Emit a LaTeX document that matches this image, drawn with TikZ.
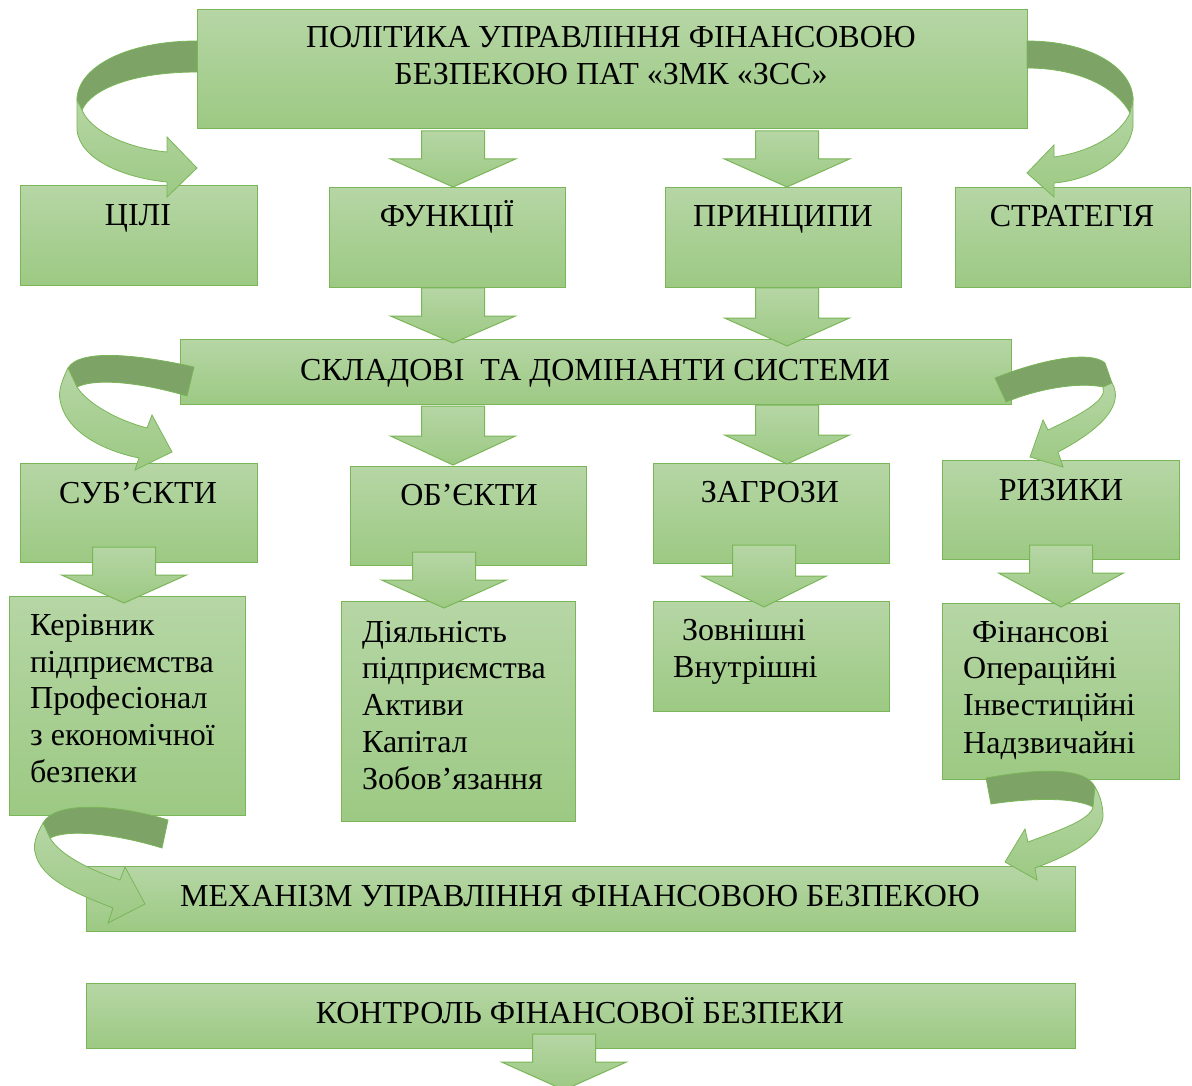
\documentclass[tikz,border=0pt]{standalone}
\usepackage{fontspec}
\setmainfont{Liberation Serif}
\definecolor{gtop}{RGB}{182,214,165}
\definecolor{gbot}{RGB}{156,201,131}
\definecolor{gline}{RGB}{122,182,88}
\definecolor{gdark}{RGB}{125,163,103}
\tikzset{
  box/.style={draw=gline, line width=1.2pt, top color=gtop, bottom color=gbot, inner sep=0pt, anchor=north west},
  barr/.style={draw=gline, line width=1pt, top color=gtop, bottom color=gbot},
  cdark/.style={draw=gline, line width=0.8pt, fill=gdark},
  clight/.style={draw=gline, line width=0.8pt, top color=gtop, bottom color=gbot},
  txt/.style={font=\fontsize{32}{37}\selectfont, inner sep=0pt, anchor=base},
  ltxt/.style={txt, anchor=base west},
}
\newcommand\boxat[5]{\node[box, minimum width=#4pt, minimum height=#5pt] (#1) at (#2,#3) {};}
\newcommand\barrow[4]{\path[barr] (#1-31.5,#2) -- (#1+31.5,#2) -- (#1+31.5,#3) -- (#1+62.5,#3) -- (#1,#4) -- (#1-62.5,#3) -- (#1-31.5,#3) -- cycle;}
\begin{document}
\begin{tikzpicture}[x=1pt,y=-1pt]
\useasboundingbox (0,0) rectangle (1192,1086);
\clip (0,0) rectangle (1192,1086);
% boxes
\boxat{title}{197}{9}{830}{119}
\boxat{cili}{20}{185}{237}{100}
\boxat{funk}{329}{187}{236}{100}
\boxat{princ}{665}{187}{236}{100}
\boxat{strat}{955}{187}{235}{100}
\boxat{sklad}{180}{339}{831}{65}
\boxat{subj}{20}{463}{237}{99}
\boxat{obj}{350}{466}{236}{99}
\boxat{zagr}{653}{463}{236}{100}
\boxat{ryz}{942}{460}{237}{99}
\boxat{kerv}{9}{596}{236}{219}
\boxat{dial}{341}{601}{234}{220}
\boxat{zovn}{653}{601}{236}{110}
\boxat{fin}{942}{603}{237}{176}
\boxat{mech}{86}{866}{989}{65}
\boxat{kontr}{86}{983}{989}{65}
% block arrows
\barrow{453}{131}{159}{187}
\barrow{787}{131}{159}{187}
\barrow{453}{288}{316}{343}
\barrow{787}{288}{318}{346}
\barrow{453}{406}{436}{465}
\barrow{787}{405}{435}{464}
\barrow{124}{547}{575}{603}
\barrow{444}{552}{580}{608}
\barrow{764}{545}{576}{607}
\barrow{1061}{545}{573}{607}
\barrow{564}{1034}{1062}{1090}
% texts
\node[txt] (t1) at (611,48) {ПОЛІТИКА УПРАВЛІННЯ ФІНАНСОВОЮ};
\node[txt] (t2) at (611,85) {БЕЗПЕКОЮ ПАТ «ЗМК «ЗСС»};
\node[txt] (tcili) at (138,226) {ЦІЛІ};
\node[txt] (tfunk) at (447,227) {ФУНКЦІЇ};
\node[txt] (tprinc) at (783,227) {ПРИНЦИПИ};
\node[txt] (tstrat) at (1072,227) {СТРАТЕГІЯ};
\node[txt] (tsklad) at (595,380) {СКЛАДОВІ\ \ ТА ДОМІНАНТИ СИСТЕМИ};
\node[txt] (tsubj) at (138,503) {СУБ’ЄКТИ};
\node[txt] (tobj) at (469,505) {ОБ’ЄКТИ};
\node[txt] (tzagr) at (770,502) {ЗАГРОЗИ};
\node[txt] (tryz) at (1061,500) {РИЗИКИ};
\node[txt] (tmech) at (580,906) {МЕХАНІЗМ УПРАВЛІННЯ ФІНАНСОВОЮ БЕЗПЕКОЮ};
\node[txt] (tkontr) at (580,1023) {КОНТРОЛЬ ФІНАНСОВОЇ БЕЗПЕКИ};
\node[ltxt] (k1) at (30,635) {Керівник};
\node[ltxt] (k2) at (30,672) {підприємства};
\node[ltxt] (k3) at (30,708) {Професіонал};
\node[ltxt] (k4) at (30,745) {з економічної};
\node[ltxt] (k5) at (30,782) {безпеки};
\node[ltxt] (d1) at (362,642) {Діяльність};
\node[ltxt] (d2) at (362,678) {підприємства};
\node[ltxt] (d3) at (362,715) {Активи};
\node[ltxt] (d4) at (362,752) {Капітал};
\node[ltxt] (d5) at (362,789) {Зобов’язання};
\node[ltxt] (z1) at (682,640) {Зовнішні};
\node[ltxt] (z2) at (673,677) {Внутрішні};
\node[ltxt] (f1) at (972,642) {Фінансові};
\node[ltxt] (f2) at (963,678) {Операційні};
\node[ltxt] (f3) at (963,715) {Інвестиційні};
\node[ltxt] (f4) at (963,753) {Надзвичайні};
% curved arrow A (title -> cili)
\path[cdark] (197,41) .. controls (125,41) and (77,68) .. (77,100) -- (82,110) .. controls (92,88) and (135,72) .. (197,72) -- cycle;
\path[clight] (77,100) -- (77,130) .. controls (80,160) and (125,178) .. (167,182) -- (167,197) -- (197,168) -- (167,137) -- (167,152) .. controls (125,148) and (90,130) .. (82,110) -- cycle;
% curved arrow B (title -> strat)
\path[cdark] (1027,41) .. controls (1090,41) and (1133,68) .. (1133,100) -- (1130,113) .. controls (1115,85) and (1075,68) .. (1027,68) -- cycle;
\path[clight] (1133,100) -- (1133,127) .. controls (1128,160) and (1090,180) .. (1054,183) -- (1054,197) -- (1027,173) -- (1054,145) -- (1054,157) .. controls (1090,152) and (1120,135) .. (1130,113) -- cycle;
% curved arrow C (sklad -> subj)
\path[cdark] (194,367) .. controls (140,355) and (80,348) .. (68,368) -- (77,387) .. controls (95,378) and (140,382) .. (187,396) -- cycle;
\path[clight] (68,368) .. controls (62,380) and (58,392) .. (60,400) .. controls (65,430) and (100,450) .. (139,458) -- (135,470) -- (172,452) -- (152,415) -- (147,428) .. controls (110,418) and (85,400) .. (77,387) -- cycle;
% curved arrow D (sklad -> ryz)
\path[cdark] (995,378) .. controls (1040,360) and (1090,350) .. (1105,363) -- (1112,383) -- (1103,387) .. controls (1080,382) and (1040,388) .. (1006,402) -- cycle;
\path[clight] (1112,383) .. controls (1125,405) and (1100,430) .. (1058,452) -- (1063,467) -- (1030,457) -- (1043,420) -- (1048,430) .. controls (1080,415) and (1108,400) .. (1103,387) -- cycle;
% curved arrow E (kerv -> mech)
\path[cdark] (168,820) .. controls (120,805) and (55,800) .. (43,823) -- (50,838) .. controls (70,828) and (120,835) .. (162,848) -- cycle;
\path[clight] (43,823) .. controls (36,835) and (33,845) .. (35,852) .. controls (40,880) and (80,895) .. (113,908) -- (108,923) -- (145,904) -- (125,867) -- (120,880) .. controls (90,870) and (60,855) .. (50,838) -- cycle;
% curved arrow F (fin -> mech)
\path[cdark] (986,778) .. controls (1030,770) and (1085,765) .. (1095,787) -- (1093,807) .. controls (1075,797) and (1030,798) .. (991,804) -- cycle;
\path[clight] (1095,787) .. controls (1100,795) and (1103,805) .. (1103,817) .. controls (1100,840) and (1070,855) .. (1035,868) -- (1037,880) -- (1005,862) -- (1025,829) -- (1028,842) .. controls (1060,830) and (1090,820) .. (1093,807) -- cycle;
\end{tikzpicture}
\end{document}
